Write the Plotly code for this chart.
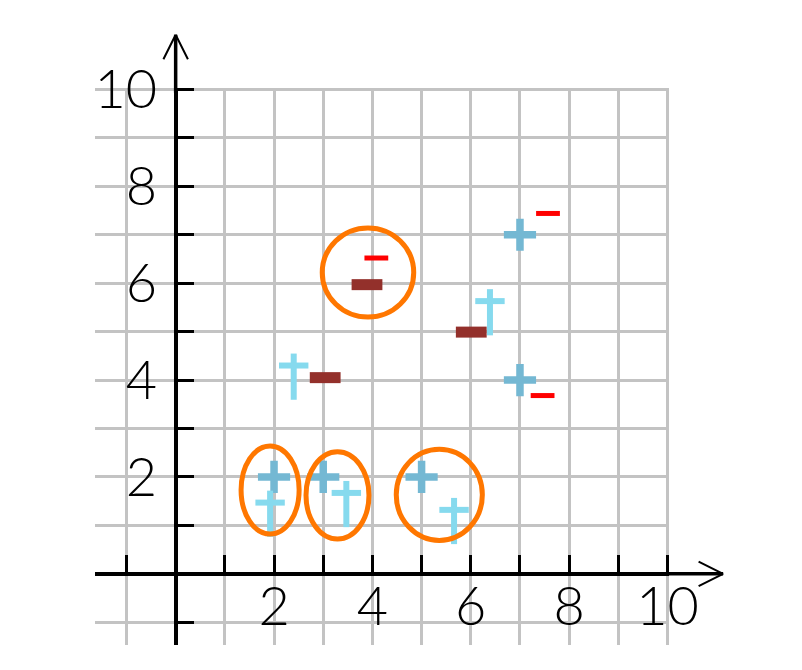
import plotly.graph_objects as go

# ---------------- data ----------------
plus_x = [2, 3, 5, 7, 7]
plus_y = [2, 2, 2, 7, 4]

dagger_x = [1.92, 3.47, 2.40, 6.39, 5.66]
dagger_y = [1.47, 1.67, 4.30, 5.63, 1.32]

bar_x = [3.04, 3.89, 6.01]
bar_y = [4.05, 5.97, 4.99]

dash_x = [4.08, 7.57, 7.46]
dash_y = [6.52, 7.44, 3.68]

ring_cx = [3.91, 1.92, 3.29, 5.36]
ring_cy = [6.22, 1.73, 1.62, 1.63]
ring_rx = [0.93, 0.59, 0.64, 0.875]
ring_ry = [0.92, 0.91, 0.90, 0.94]

tick_vals = list(range(-1, 11))
tick_text = ['', '', '', '2', '', '4', '', '6', '', '8', '', '10']

axis_end = 11.13

# ---------------- styles ----------------
PLUS_C = '#74B8D3'
CYAN_C = '#86DAEE'
BROWN_C = '#93302B'
RED_C = '#FF0000'
ORANGE_C = '#FF7700'
GRID_C = '#C3C3C3'
STEM_DROP = 0.23

X_RANGE = [-1.64, 10.03]
Y_RANGE = [-1.47, 10.03]

FONT = dict(family='Lato, Liberation Sans, Arial', size=54, color='black', weight=300)

fig = go.Figure()

fig.add_trace(go.Scatter(
    x=bar_x, y=bar_y, mode='markers', hoverinfo='skip',
    marker=dict(symbol='line-ew', size=22, line=dict(color=BROWN_C, width=11))))

fig.add_trace(go.Scatter(
    x=dash_x, y=dash_y, mode='markers', hoverinfo='skip',
    marker=dict(symbol='line-ew', size=17, line=dict(color=RED_C, width=5))))

fig.add_trace(go.Scatter(
    x=plus_x, y=plus_y, mode='markers', hoverinfo='skip',
    marker=dict(symbol='cross-thin', size=23, line=dict(color=PLUS_C, width=7.5))))

fig.add_trace(go.Scatter(
    x=dagger_x, y=[v - STEM_DROP for v in dagger_y], mode='markers', hoverinfo='skip',
    marker=dict(symbol='line-ns', size=33, line=dict(color=CYAN_C, width=6))))
fig.add_trace(go.Scatter(
    x=dagger_x, y=dagger_y, mode='markers', hoverinfo='skip',
    marker=dict(symbol='line-ew', size=21, line=dict(color=CYAN_C, width=6))))

shapes = []
for cx, cy, rx, ry in zip(ring_cx, ring_cy, ring_rx, ring_ry):
    shapes.append(dict(type='circle', xref='x', yref='y',
                       x0=cx - rx, x1=cx + rx, y0=cy - ry, y1=cy + ry,
                       line=dict(color=ORANGE_C, width=5), layer='above'))


def px(v):
    return (v - X_RANGE[0]) / (X_RANGE[1] - X_RANGE[0])


def py(v):
    return (v - Y_RANGE[0]) / (Y_RANGE[1] - Y_RANGE[0])


# axis extensions with open chevron heads
annotations = [
    dict(x=axis_end, y=0, ax=9.9, ay=0, xref='x', yref='y', axref='x', ayref='y',
         text='', showarrow=True, arrowhead=0, arrowwidth=3.5, arrowcolor='black'),
    dict(x=0, y=axis_end, ax=0, ay=9.9, xref='x', yref='y', axref='x', ayref='y',
         text='', showarrow=True, arrowhead=0, arrowwidth=3.5, arrowcolor='black'),
]
for dy in (-13, 13):
    annotations.append(dict(x=px(axis_end), y=py(0), xref='paper', yref='paper',
                            ax=-26, ay=dy, text='', showarrow=True, arrowhead=0,
                            arrowwidth=2, arrowcolor='black'))
for dx in (-13, 13):
    annotations.append(dict(x=px(0), y=py(axis_end), xref='paper', yref='paper',
                            ax=dx, ay=26, text='', showarrow=True, arrowhead=0,
                            arrowwidth=2, arrowcolor='black'))

common = dict(tickmode='array', tickvals=tick_vals, ticktext=tick_text,
              showgrid=True, gridcolor=GRID_C, gridwidth=3, zeroline=False,
              showline=True, linecolor='black', linewidth=3.5,
              ticks='inside', ticklen=17, tickwidth=3, tickcolor='black',
              tickfont=FONT, anchor='free', fixedrange=True, automargin=False)

fig.update_layout(
    width=802, height=670,
    margin=dict(l=87, r=141, t=80, b=33),
    plot_bgcolor='white', paper_bgcolor='white',
    showlegend=False,
    xaxis=dict(range=X_RANGE, position=py(0), side='bottom',
               ticklabelstandoff=-15, **common),
    yaxis=dict(range=Y_RANGE, position=px(0), side='left',
               ticklabelstandoff=6, **common),
    shapes=shapes,
    annotations=annotations,
)

fig.write_html('out.html')
